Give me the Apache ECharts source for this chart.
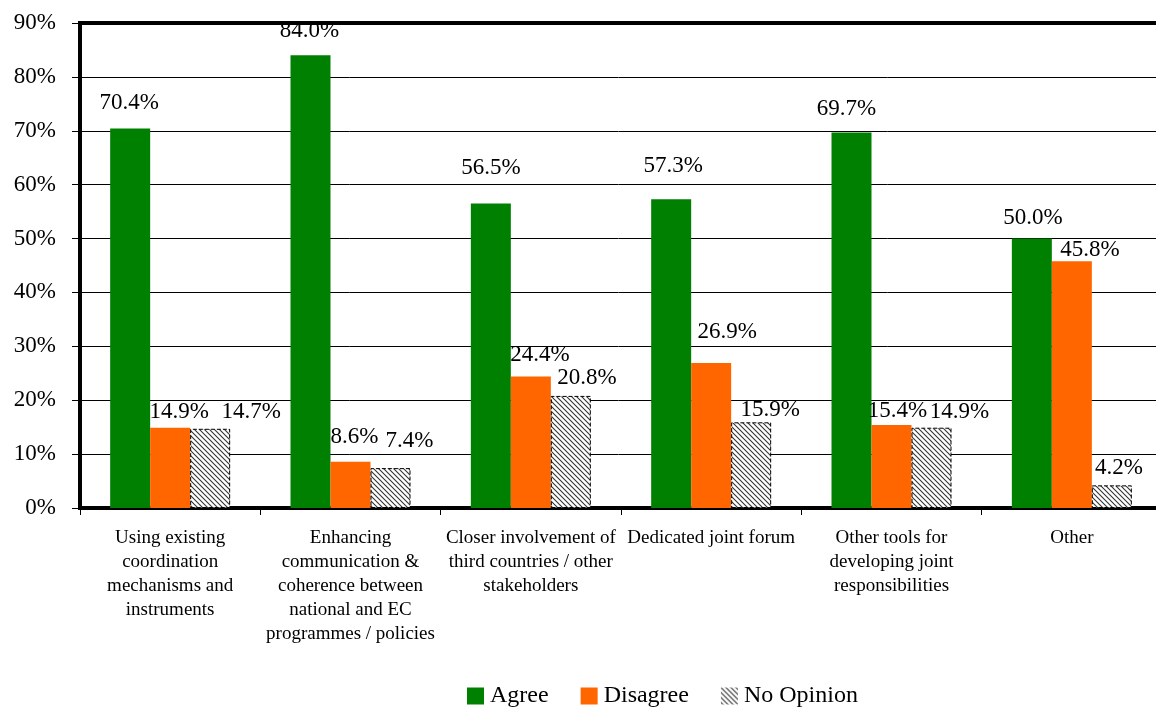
<!DOCTYPE html>
<html>
<head>
<meta charset="utf-8">
<script src="https://cdn.jsdelivr.net/npm/echarts@6/dist/echarts.min.js"></script>
<style>
  html, body { margin: 0; padding: 0; background: #fff; }
  #chart { width: 1156px; height: 708px; }
</style>
</head>
<body>
<div id="chart"></div>
<script>
var categories = [
    'Using existing\ncoordination\nmechanisms and\ninstruments',
    'Enhancing\ncommunication &\ncoherence between\nnational and EC\nprogrammes / policies',
    'Closer involvement of\nthird countries / other\nstakeholders',
    'Dedicated joint forum',
    'Other tools for\ndeveloping joint\nresponsibilities',
    'Other'
];
var agree = [70.4, 84.0, 56.5, 57.3, 69.7, 50.0];
var disagree = [14.9, 8.6, 24.4, 26.9, 15.4, 45.8];
var noOpinion = [14.7, 7.4, 20.8, 15.9, 14.9, 4.2];

// label nudges [dx, dy] copied from the original layout (styling only)
var agreeShift = [[-1, -14], [-1, -13], [0, -24], [2, -22], [-5, -12], [1, -9]];
var disShift = [[9, -4], [4, -13], [9, -10], [16, -20], [6, -3], [18, 0]];
var noShift = [[41, -5], [19, -16], [16, -6], [19, -1], [28, -4], [7, -6]];

// hatch pattern for "No Opinion"
function hatch() {
    var c = document.createElement('canvas');
    c.width = 5; c.height = 5;
    var ctx = c.getContext('2d');
    ctx.fillStyle = '#fff';
    ctx.fillRect(0, 0, 5, 5);
    ctx.strokeStyle = '#333';
    ctx.lineWidth = 1.1;
    ctx.beginPath();
    ctx.moveTo(-1, -1); ctx.lineTo(6, 6);
    ctx.moveTo(-4, 1); ctx.lineTo(4, 9);
    ctx.moveTo(1, -4); ctx.lineTo(9, 4);
    ctx.stroke();
    return c;
}
var hatchFill = { image: hatch(), repeat: 'repeat' };

var font = '"Liberation Serif", "Times New Roman", serif';

function withLabels(values, shifts) {
    return values.map(function (v, i) {
        return { value: v, label: { offset: shifts[i] } };
    });
}

function labelCfg() {
    return {
        show: true,
        position: 'top',
        distance: 0,
        color: '#000',
        fontFamily: font,
        fontSize: 23,
        formatter: function (p) { return p.value.toFixed(1) + '%'; }
    };
}

var chart = echarts.init(document.getElementById('chart'));

var option = {
    animation: false,
    textStyle: { fontFamily: font },
    grid: {
        left: 80,
        top: 23,
        width: 1082,
        height: 485,
        outerBoundsMode: 'none',
        containLabel: false,
        show: true,
        borderColor: '#000',
        borderWidth: 4
    },
    legend: {
        top: 679,
        left: 462,
        icon: 'rect',
        itemWidth: 17,
        itemHeight: 17,
        itemGap: 32,
        textStyle: { fontFamily: font, fontSize: 24, color: '#000', padding: [0, 0, 0, 1] },
        data: [
            'Agree',
            'Disagree',
            { name: 'No Opinion', itemStyle: { borderWidth: 0 } }
        ]
    },
    xAxis: {
        type: 'category',
        data: categories,
        axisLine: { lineStyle: { color: '#000', width: 4 } },
        axisTick: { show: true, length: 7, lineStyle: { color: '#000', width: 1 } },
        axisLabel: {
            color: '#000',
            fontFamily: font,
            fontSize: 19,
            lineHeight: 24,
            margin: 18,
            interval: 0
        }
    },
    yAxis: {
        type: 'value',
        min: 0,
        max: 90,
        interval: 10,
        axisLine: { show: true, lineStyle: { color: '#000', width: 4 } },
        axisTick: { show: true, length: 8, lineStyle: { color: '#000', width: 1 } },
        splitLine: { lineStyle: { color: '#000', width: 1 } },
        axisLabel: {
            color: '#000',
            fontFamily: font,
            fontSize: 23,
            margin: 24,
            formatter: '{value}%'
        }
    },
    series: [
        {
            name: 'Agree',
            type: 'bar',
            data: withLabels(agree, agreeShift),
            barWidth: 40,
            barGap: '0%',
            itemStyle: { color: '#008000' },
            label: labelCfg()
        },
        {
            name: 'Disagree',
            type: 'bar',
            data: withLabels(disagree, disShift),
            barWidth: 40,
            barGap: '0%',
            itemStyle: { color: '#FF6600' },
            label: labelCfg()
        },
        {
            name: 'No Opinion',
            type: 'bar',
            data: withLabels(noOpinion, noShift),
            barWidth: 40,
            barGap: '0%',
            itemStyle: {
                color: hatchFill,
                borderColor: '#000',
                borderWidth: 1,
                borderType: 'dashed'
            },
            label: labelCfg()
        }
    ]
};

chart.setOption(option);
</script>
</body>
</html>
